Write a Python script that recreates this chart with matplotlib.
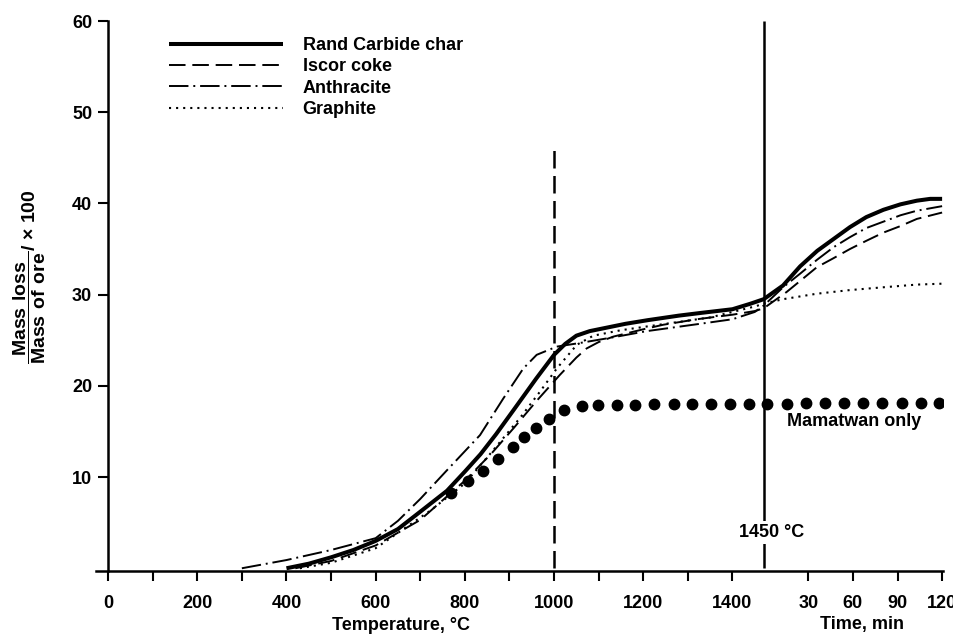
import matplotlib
matplotlib.use('Agg')
import matplotlib.pyplot as plt

plt.rcParams['font.family'] = 'Liberation Sans'
plt.rcParams['font.weight'] = 'bold'
plt.rcParams['font.size'] = 13
plt.rcParams['mathtext.fontset'] = 'custom'
plt.rcParams['mathtext.rm'] = 'Liberation Sans:bold'
plt.rcParams['mathtext.bf'] = 'Liberation Sans:bold'

# the x axis is temperature up to the 1450 C line, then time in minutes
T_BREAK = 1470          # where 0 min sits on the shared axis
PER_MIN = 100 / 30      # axis units per minute


def tpos(mins):
    return [T_BREAK + m * PER_MIN for m in mins]


# Rand Carbide char
rand_T = [400, 450, 500, 550, 600, 650, 700, 760, 800, 835, 870, 910, 960,
          1000, 1025, 1050, 1080, 1120, 1160, 1210, 1280, 1330, 1400, 1440]
rand_Ty = [0, 0.5, 1.2, 2.0, 3.0, 4.3, 6.2, 8.5, 10.6, 12.5, 14.7, 17.4, 20.8,
           23.4, 24.6, 25.5, 26.0, 26.4, 26.8, 27.2, 27.7, 28.0, 28.4, 29.0]
rand_t = [0, 13, 24.5, 36, 47, 58, 69, 80.5, 92, 103, 112, 120]
rand_ty = [29.5, 31.0, 33.1, 34.8, 36.1, 37.4, 38.5, 39.3, 39.9, 40.3, 40.5, 40.5]

# Iscor coke
iscor_T = [420, 500, 600, 700, 800, 860, 910, 960, 1013, 1050, 1073, 1100,
           1133, 1200, 1245, 1320, 1400, 1450]
iscor_Ty = [0, 0.8, 2.5, 5.3, 9.6, 12.6, 15.4, 18.3, 21.2, 23.1, 24.1, 24.8,
            25.4, 26.2, 26.7, 27.3, 27.8, 28.2]
iscor_t = [0, 15.5, 24.5, 35.7, 47, 58, 69, 80.5, 91.7, 103, 120]
iscor_ty = [28.5, 30.3, 31.5, 33.0, 34.0, 35.0, 35.9, 36.8, 37.5, 38.3, 39.0]

# Anthracite
anth_T = [300, 400, 500, 600, 650, 700, 759, 834, 886, 931, 961, 1006, 1058,
          1130, 1208, 1327, 1400, 1450]
anth_Ty = [0, 0.9, 2.0, 3.3, 5.2, 7.6, 10.7, 14.6, 18.6, 21.9, 23.4, 24.3, 24.7,
           25.3, 26.0, 26.8, 27.3, 28.1]
anth_t = [0, 13, 24.5, 35.7, 47, 58, 69, 80.5, 92, 103, 120]
anth_ty = [28.8, 30.8, 32.3, 33.8, 35.2, 36.3, 37.3, 38.0, 38.7, 39.2, 39.7]

# Graphite
graph_T = [430, 500, 600, 722, 800, 856, 924, 969, 1006, 1051, 1088, 1150,
           1250, 1350, 1450]
graph_Ty = [0, 0.6, 2.2, 6.3, 9.3, 12.5, 16.5, 19.4, 21.9, 24.5, 25.5, 26.1,
            26.8, 27.5, 28.7]
graph_t = [0, 13, 35.7, 58, 80, 103, 120]
graph_ty = [29.0, 29.5, 30.1, 30.5, 30.8, 31.1, 31.2]

# Mamatwan only (big dots)
mam_T = [770, 806, 841, 874, 908, 933, 959, 988, 1022, 1062, 1099, 1141, 1182,
         1223, 1268, 1309, 1351, 1395, 1437]
mam_Ty = [8.3, 9.6, 10.7, 12.0, 13.3, 14.4, 15.4, 16.4, 17.4, 17.8, 17.9, 17.9,
          17.9, 18.0, 18.0, 18.0, 18.0, 18.0, 18.0]
mam_t = [2.5, 15.5, 28.5, 41.3, 54, 67, 79.8, 92.9, 105.6, 118.2]
mam_ty = [18.0, 18.0, 18.1, 18.1, 18.1, 18.1, 18.1, 18.1, 18.1, 18.1]

temp_ticks = list(range(0, 1500, 100))
temp_labels = [str(v) if v % 200 == 0 else '' for v in temp_ticks]
time_ticks = [30, 60, 90, 120]

fig = plt.figure(figsize=(9.54, 6.36), dpi=100)
ax = fig.add_axes([96 / 954, 65 / 636, 847 / 954, 550 / 636])

ax.plot(rand_T + tpos(rand_t), rand_Ty + rand_ty, color='black', lw=2.9,
        solid_capstyle='butt', label='Rand Carbide char')
ax.plot(iscor_T + tpos(iscor_t), iscor_Ty + iscor_ty, color='black', lw=1.4,
        dashes=(8.5, 3.5), label='Iscor coke')
ax.plot(anth_T + tpos(anth_t), anth_Ty + anth_ty, color='black', lw=1.4,
        dashes=(10, 2.5, 1, 2.5), label='Anthracite')
ax.plot(graph_T + tpos(graph_t), graph_Ty + graph_ty, color='black', lw=1.5,
        dashes=(1, 2.4), label='Graphite')
ax.plot(mam_T + tpos(mam_t), mam_Ty + mam_ty, 'o', color='black', ms=7.5,
        label='_nolegend_')

ax.vlines(1000, 0, 46.5, color='black', lw=1.8, linestyles=(0, (7, 3)))
ax.vlines(T_BREAK, 0, 60, color='black', lw=1.8)

ax.text(T_BREAK + 18, 3.9, '1450 °C', ha='center', va='center',
        bbox=dict(fc='white', ec='none', pad=2))
ax.text(tpos([61])[0], 16.1, 'Mamatwan only', ha='center', va='center')

ax.set_xlim(-27, 1872)
ax.set_ylim(-0.3, 60)
ax.set_xticks(temp_ticks + tpos(time_ticks))
ax.set_xticklabels(temp_labels + [str(v) for v in time_ticks])
ax.set_yticks([10, 20, 30, 40, 50, 60])

ax.spines['top'].set_visible(False)
ax.spines['right'].set_visible(False)
ax.spines['left'].set_position(('data', 0))
ax.spines['left'].set_linewidth(1.8)
ax.spines['bottom'].set_linewidth(1.8)
ax.tick_params(axis='x', direction='out', length=7.5, width=1.5, pad=10)
ax.tick_params(axis='y', direction='out', length=7.5, width=1.5, pad=4)

ax.legend(loc='upper left', bbox_to_anchor=(169 / 954, 1 - 37 / 636),
          bbox_transform=fig.transFigure, frameon=False, handlelength=6.3,
          handletextpad=1.1, labelspacing=0.24, borderpad=0, borderaxespad=0)

fig.text(401 / 954, 1 - 625 / 636, 'Temperature, °C', ha='center', va='center')
fig.text(862 / 954, 1 - 625 / 636, 'Time, min', ha='center', va='center')
fig.text(30 / 954, 1 - 277 / 636,
         r'$\dfrac{\mathbf{Mass\ loss}}{\mathbf{Mass\ of\ ore}}$/ × 100',
         rotation=90, ha='center', va='center', fontsize=14)

fig.savefig('out.png', dpi=100)
